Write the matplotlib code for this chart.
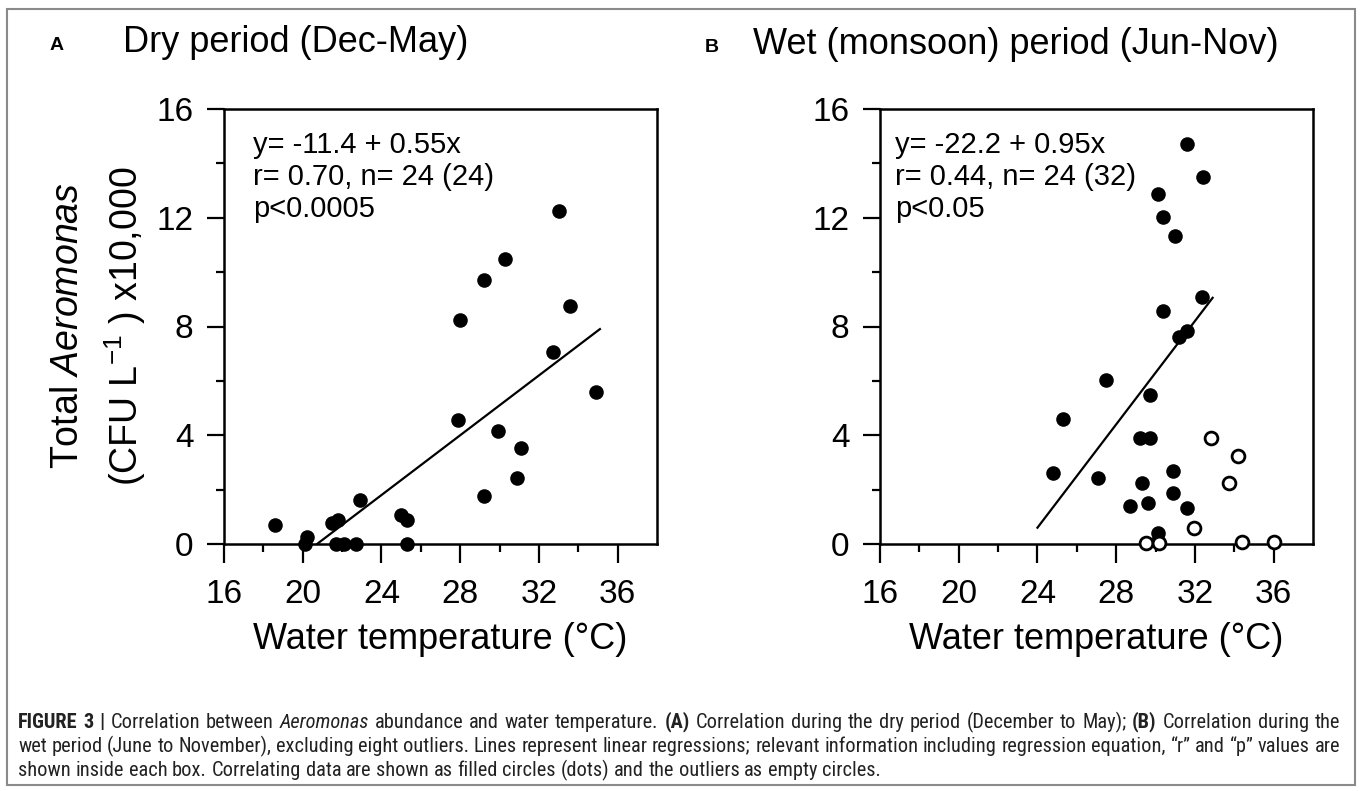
import matplotlib
matplotlib.use("Agg")
import matplotlib.pyplot as plt
from matplotlib.patches import Rectangle
from matplotlib import font_manager

# ----------------------------------------
# 1. Data
# ----------------------------------------

# Dry period (Dec-May): temperature (C) and total Aeromonas (x10,000 CFU/L)
dry_temp = [18.6, 20.2, 20.1, 21.5, 21.8, 21.7, 22.1, 22.7, 22.9, 25.0, 25.3, 25.3,
            27.9, 28.0, 29.2, 29.2, 29.9, 30.3, 30.9, 31.1, 32.7, 33.0, 33.6, 34.9]
dry_count = [0.70, 0.27, 0.0, 0.76, 0.88, 0.0, 0.0, 0.0, 1.62, 1.07, 0.88, 0.0,
             4.56, 8.24, 9.71, 1.76, 4.17, 10.5, 2.42, 3.52, 7.05, 12.25, 8.75, 5.6]

# Wet (monsoon) period (Jun-Nov): correlating data
wet_temp = [31.6, 32.4, 30.1, 30.4, 31.0, 32.35, 30.4, 31.6, 31.2, 27.5, 29.7, 25.3,
            29.2, 29.7, 24.8, 27.1, 29.3, 30.9, 30.9, 28.7, 29.6, 31.6, 30.1, 30.1]
wet_count = [14.7, 13.5, 12.87, 12.04, 11.33, 9.1, 8.57, 7.85, 7.6, 6.03, 5.48, 4.58,
             3.89, 3.89, 2.6, 2.44, 2.23, 2.68, 1.89, 1.4, 1.52, 1.34, 0.39, 0.12]

# Wet period outliers (empty circles)
out_temp = [32.8, 34.2, 33.75, 31.95, 29.5, 30.2, 34.4, 36.0]
out_count = [3.89, 3.24, 2.23, 0.58, 0.05, 0.05, 0.08, 0.08]

# regression equations and the x range each line covers
dry_fit = (-11.4, 0.55)
dry_fit_range = [20.73, 35.1]
wet_fit = (-22.2, 0.95)
wet_fit_range = [24.0, 32.9]

dry_stats = "y= -11.4 + 0.55x\nr= 0.70, n= 24 (24)\np<0.0005"
wet_stats = "y= -22.2 + 0.95x\nr= 0.44, n= 24 (32)\np<0.05"

x_ticks = [16, 20, 24, 28, 32, 36]
y_ticks = [0, 4, 8, 12, 16]

# ----------------------------------------
# 2. Figure setup
# ----------------------------------------

W, H = 1360, 791
plt.rcParams['font.family'] = ['Liberation Sans', 'DejaVu Sans']
plt.rcParams['mathtext.fontset'] = 'custom'
plt.rcParams['mathtext.rm'] = 'Liberation Sans'
plt.rcParams['mathtext.it'] = 'Liberation Sans:italic'
plt.rcParams['mathtext.bf'] = 'Liberation Sans:bold'

fig = plt.figure(figsize=(W / 100, H / 100), dpi=100)


def fx(px):
    return px / W


def fy(py):
    return 1 - py / H


def make_panel(left_px, temp, count, fit, fit_range, stats, stats_x):
    ax = fig.add_axes([fx(left_px), fy(544), 433 / W, 435 / H])
    ax.scatter(temp, count, s=110, color='black', zorder=3, clip_on=False,
               linewidths=0)
    lx = [fit_range[0], fit_range[1]]
    ly = [fit[0] + fit[1] * v for v in lx]
    ax.plot(lx, ly, color='black', linewidth=1.6)

    ax.set_xlim(16, 38)
    ax.set_ylim(0, 16)
    ax.set_xticks(x_ticks)
    ax.set_xticks(range(18, 38, 4), minor=True)
    ax.set_yticks(y_ticks)
    ax.set_yticks(range(2, 16, 4), minor=True)
    for sp in ax.spines.values():
        sp.set_linewidth(1.8)
    ax.tick_params(axis='x', which='major', direction='out', length=13.5,
                   width=1.6, pad=12, labelsize=24)
    ax.tick_params(axis='y', which='major', direction='out', length=12,
                   width=1.6, pad=10, labelsize=24)
    ax.tick_params(which='minor', direction='out', length=6, width=1.6)
    ax.tick_params(top=False, right=False, which='both')

    ax.text(stats_x, 0.95, stats, transform=ax.transAxes, ha='left',
            va='top', fontsize=21, linespacing=1.18)
    ax.set_xlabel("Water temperature (°C)", fontsize=26, labelpad=8)
    return ax


# ----------------------------------------
# 3. Panels
# ----------------------------------------

ax_a = make_panel(224, dry_temp, dry_count, dry_fit, dry_fit_range,
                  dry_stats, 0.067)
ax_b = make_panel(880, wet_temp, wet_count, wet_fit, wet_fit_range,
                  wet_stats, 0.035)
ax_b.scatter(out_temp, out_count, s=85, facecolor='white', edgecolor='black',
             linewidths=2, zorder=4, clip_on=False)

# panel letters and titles
fig.text(fx(57), fy(46), "A", fontsize=14, fontweight='bold', ha='center',
         va='center')
fig.text(fx(712), fy(47), "B", fontsize=14, fontweight='bold', ha='center',
         va='center')
fig.text(fx(123), fy(42), "Dry period (Dec-May)", fontsize=26, ha='left',
         va='center')
fig.text(fx(753), fy(44), "Wet (monsoon) period (Jun-Nov)", fontsize=26,
         ha='left', va='center')

# two-line y label on panel A
fig.text(fx(68), fy(326), r"Total $\it{Aeromonas}$", fontsize=27,
         rotation=90, ha='center', va='center')
fig.text(fx(125), fy(326), r"(CFU L$^{-1}$ ) x10,000", fontsize=27,
         rotation=90, ha='center', va='center')

# ----------------------------------------
# 4. Caption (justified, mixed styles)
# ----------------------------------------

available = {f.name for f in font_manager.fontManager.ttflist}
cap_family = 'Liberation Sans'
for name in ['Roboto Condensed', 'Liberation Sans Narrow', 'DejaVu Sans Condensed']:
    if name in available:
        cap_family = name
        break

caption = [
    [("FIGURE 3 |", 'bold', 'normal'), ("Correlation between", 'normal', 'normal'),
     ("Aeromonas", 'normal', 'italic'),
     ("abundance and water temperature.", 'normal', 'normal'),
     ("(A)", 'bold', 'normal'),
     ("Correlation during the dry period (December to May);", 'normal', 'normal'),
     ("(B)", 'bold', 'normal'), ("Correlation during the", 'normal', 'normal')],
    [("wet period (June to November), excluding eight outliers. Lines represent "
      "linear regressions; relevant information including regression equation, "
      "\u201cr\u201d and \u201cp\u201d values are", 'normal', 'normal')],
    [("shown inside each box. Correlating data are shown as filled circles (dots) "
      "and the outliers as empty circles.", 'normal', 'normal')],
]

renderer = fig.canvas.get_renderer()


def text_width(s, size, weight, style):
    t = fig.text(0, 0, s, fontsize=size, fontweight=weight, fontstyle=style,
                 family=cap_family)
    w = t.get_window_extent(renderer).width
    t.remove()
    return w


def split_words(row):
    words = []
    for s, wt, st in row:
        for w in s.split(" "):
            words.append((w, wt, st))
    return words


left_px, right_px = 18, 1340
base = 12
space_w = text_width("a a", base, 'normal', 'normal') - text_width("aa", base, 'normal', 'normal')
natural = []
for row in caption[:2]:
    words = split_words(row)
    natural.append(sum(text_width(w, base, wt, st) for w, wt, st in words)
                   + space_w * (len(words) - 1))
cap_size = base * (right_px - left_px) / max(natural) * 0.995
space_w = space_w * cap_size / base

for i, (row, ypx) in enumerate(zip(caption, [722, 746, 770])):
    words = split_words(row)
    widths = [text_width(w, cap_size, wt, st) for w, wt, st in words]
    if i < 2:
        gap = (right_px - left_px - sum(widths)) / (len(words) - 1)
    else:
        gap = space_w
    xpx = left_px
    for (w, wt, st), wd in zip(words, widths):
        fig.text(fx(xpx), fy(ypx), w, fontsize=cap_size, fontweight=wt,
                 fontstyle=st, family=cap_family, color='#222222',
                 ha='left', va='center')
        xpx += wd + gap

# outer frame
fig.patches.append(Rectangle((fx(7), fy(785)), (1355 - 7) / W, (785 - 9) / H,
                             transform=fig.transFigure, fill=False,
                             edgecolor='#8a8a8a', linewidth=1.5))

fig.savefig("out.png", dpi=100)
